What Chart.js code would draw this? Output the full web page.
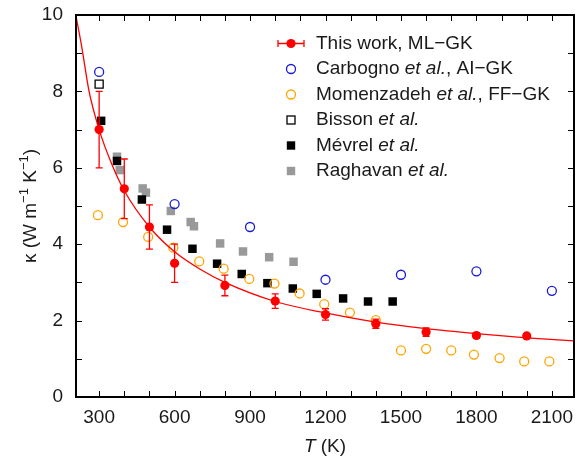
<!DOCTYPE html>
<html>
<head>
<meta charset="utf-8">
<script src="https://cdn.jsdelivr.net/npm/chart.js@4"></script>
<style>
  html, body { margin: 0; padding: 0; background: #fff; }
</style>
</head>
<body>
<canvas id="mainChart" width="581" height="459"></canvas>
<script>
// This work (ML-GK) with error bars
const thisT = [300, 400, 500, 600, 800, 1000, 1200, 1400, 1600, 1800, 2000];
const thisK = [7.0, 5.45, 4.45, 3.5, 2.92, 2.51, 2.16, 1.92, 1.70, 1.61, 1.60];
const thisErr = [1.0, 0.78, 0.58, 0.5, 0.27, 0.19, 0.15, 0.12, 0.11, 0.06, 0.06];

// fitted curve
const fitT = [210, 230, 260, 300, 350, 400, 500, 600, 700, 800, 1000, 1200, 1400, 1600, 1800, 2000, 2188];
const fitK = [9.9, 9.2, 8.0, 7.0, 6.1, 5.4, 4.45, 3.8, 3.35, 3.0, 2.5, 2.2, 1.96, 1.79, 1.66, 1.55, 1.47];

// Carbogno et al., AI-GK
const carbT = [300, 600, 900, 1200, 1500, 1800, 2100];
const carbK = [8.51, 5.05, 4.45, 3.07, 3.20, 3.29, 2.78];

// Momenzadeh et al., FF-GK
const momT = [295, 395, 495, 595, 698, 795, 897, 997, 1097, 1195, 1297, 1400, 1500, 1600, 1700, 1790, 1892, 1990, 2090];
const momK = [4.76, 4.58, 4.19, 3.91, 3.55, 3.36, 3.09, 2.97, 2.71, 2.43, 2.21, 2.01, 1.22, 1.26, 1.22, 1.11, 1.02, 0.93, 0.93];

// Bisson et al.
const bisT = [300];
const bisK = [8.19];

// Mévrel et al.
const mevT = [308, 371, 470, 570, 671, 769, 867, 969, 1070, 1165, 1270, 1369, 1467];
const mevK = [7.23, 6.18, 5.17, 4.38, 3.88, 3.49, 3.22, 2.98, 2.84, 2.70, 2.58, 2.50, 2.50];

// Raghavan et al.
const ragT = [371, 382, 473, 486, 585, 664, 677, 781, 872, 976, 1073];
const ragK = [6.29, 5.94, 5.46, 5.35, 4.87, 4.58, 4.47, 4.02, 3.81, 3.66, 3.54];

// tick labels
const xTickLabels = [300, 600, 900, 1200, 1500, 1800, 2100];
const yTickLabels = [0, 2, 4, 6, 8, 10];

const FONT = '"Liberation Sans", Arial, Helvetica, sans-serif';
const TXT = '#1a1a1a';
const RED = '#ff0000';
const BLUE = '#1a1ad6';
const ORANGE = '#ffa500';
const GRAY = '#999999';

function pts(xs, ys) {
    return xs.map((x, i) => ({ x: x, y: ys[i] }));
}

const legendRows = [
    { parts: [{ t: 'This work, ML\u2212GK' }], style: 'err' },
    { parts: [{ t: 'Carbogno ' }, { t: 'et al.', i: true }, { t: ', AI\u2212GK' }], style: 'circle', color: BLUE },
    { parts: [{ t: 'Momenzadeh ' }, { t: 'et al.', i: true }, { t: ', FF\u2212GK' }], style: 'circle', color: ORANGE },
    { parts: [{ t: 'Bisson ' }, { t: 'et al.', i: true }], style: 'openrect', color: '#000' },
    { parts: [{ t: 'M\u00e9vrel ' }, { t: 'et al.', i: true }], style: 'rect', color: '#000' },
    { parts: [{ t: 'Raghavan ' }, { t: 'et al.', i: true }], style: 'rect', color: GRAY }
];

// error bars for "this work"
const errorBars = {
    id: 'errorBars',
    afterDatasetsDraw(chart) {
        const ctx = chart.ctx;
        const xs = chart.scales.x, ys = chart.scales.y;
        ctx.save();
        ctx.strokeStyle = RED;
        ctx.lineWidth = 1.3;
        thisT.forEach((t, i) => {
            const px = xs.getPixelForValue(t);
            const top = ys.getPixelForValue(thisK[i] + thisErr[i]);
            const bot = ys.getPixelForValue(thisK[i] - thisErr[i]);
            ctx.beginPath();
            ctx.moveTo(px, top); ctx.lineTo(px, bot);
            ctx.moveTo(px - 3.5, top); ctx.lineTo(px + 3.5, top);
            ctx.moveTo(px - 3.5, bot); ctx.lineTo(px + 3.5, bot);
            ctx.stroke();
        });
        ctx.restore();
    }
};

// frame with inward ticks on all four sides
const frame = {
    id: 'frame',
    afterDraw(chart) {
        const ctx = chart.ctx;
        const a = chart.chartArea;
        const xs = chart.scales.x, ys = chart.scales.y;
        ctx.save();
        ctx.strokeStyle = '#000';
        ctx.lineWidth = 1;
        ctx.beginPath();
        xs.ticks.forEach(tk => {
            const px = Math.round(xs.getPixelForValue(tk.value)) + 0.5;
            ctx.moveTo(px, a.bottom); ctx.lineTo(px, a.bottom - 6);
            ctx.moveTo(px, a.top); ctx.lineTo(px, a.top + 6);
        });
        ys.ticks.forEach(tk => {
            const py = Math.round(ys.getPixelForValue(tk.value)) + 0.5;
            ctx.moveTo(a.left, py); ctx.lineTo(a.left + 6, py);
            ctx.moveTo(a.right, py); ctx.lineTo(a.right - 6, py);
        });
        ctx.stroke();
        ctx.lineWidth = 2;
        ctx.strokeRect(a.left, a.top, a.right - a.left, a.bottom - a.top);
        ctx.restore();
    }
};

// axis titles with italics and superscripts
const titles = {
    id: 'titles',
    afterDraw(chart) {
        const ctx = chart.ctx;
        const a = chart.chartArea;
        ctx.save();
        ctx.fillStyle = TXT;
        ctx.textBaseline = 'alphabetic';

        // y title
        const yParts = [
            { t: '\u03ba (W m', s: 19, dy: 0 },
            { t: '\u22121', s: 13, dy: -8 },
            { t: ' K', s: 19, dy: 0 },
            { t: '\u22121', s: 13, dy: -8 },
            { t: ')', s: 19, dy: 0 }
        ];
        let w = 0;
        yParts.forEach(p => { ctx.font = p.s + 'px ' + FONT; w += ctx.measureText(p.t).width; });
        ctx.translate(36, (a.top + a.bottom) / 2);
        ctx.rotate(-Math.PI / 2);
        let x = -w / 2;
        yParts.forEach(p => {
            ctx.font = p.s + 'px ' + FONT;
            ctx.fillText(p.t, x, p.dy);
            x += ctx.measureText(p.t).width;
        });
        ctx.setTransform(1, 0, 0, 1, 0, 0);

        // x title
        const xParts = [{ t: 'T', i: true }, { t: ' (K)' }];
        w = 0;
        xParts.forEach(p => { ctx.font = (p.i ? 'italic ' : '') + '19px ' + FONT; w += ctx.measureText(p.t).width; });
        x = (a.left + a.right) / 2 - w / 2;
        xParts.forEach(p => {
            ctx.font = (p.i ? 'italic ' : '') + '19px ' + FONT;
            ctx.fillText(p.t, x, 452);
            x += ctx.measureText(p.t).width;
        });
        ctx.restore();
    }
};

// legend, drawn by hand to get the error-bar key and italic "et al."
const legend = {
    id: 'customLegend',
    afterDraw(chart) {
        const ctx = chart.ctx;
        const mx = 291, tx = 316, y0 = 43.5, dy = 25.5;
        ctx.save();
        legendRows.forEach((row, r) => {
            const y = y0 + r * dy;
            ctx.lineWidth = 1.3;
            if (row.style === 'err') {
                ctx.strokeStyle = RED;
                ctx.beginPath();
                ctx.moveTo(278, y); ctx.lineTo(304, y);
                ctx.moveTo(278, y - 3.5); ctx.lineTo(278, y + 3.5);
                ctx.moveTo(304, y - 3.5); ctx.lineTo(304, y + 3.5);
                ctx.stroke();
                ctx.fillStyle = RED;
                ctx.beginPath(); ctx.arc(mx, y, 4.6, 0, Math.PI * 2); ctx.fill();
            } else if (row.style === 'circle') {
                ctx.strokeStyle = row.color;
                ctx.beginPath(); ctx.arc(mx, y, 4.5, 0, Math.PI * 2); ctx.stroke();
            } else if (row.style === 'openrect') {
                ctx.strokeStyle = row.color;
                ctx.strokeRect(mx - 4, y - 4, 8, 8);
            } else {
                ctx.fillStyle = row.color;
                ctx.fillRect(mx - 4.2, y - 4.2, 8.4, 8.4);
            }
            ctx.fillStyle = TXT;
            ctx.textBaseline = 'middle';
            let x = tx;
            row.parts.forEach(p => {
                ctx.font = (p.i ? 'italic ' : '') + '19px ' + FONT;
                ctx.fillText(p.t, x, y);
                x += ctx.measureText(p.t).width;
            });
        });
        ctx.restore();
    }
};

const ctx = document.getElementById('mainChart').getContext('2d');
const chart = new Chart(ctx, {
    type: 'scatter',
    data: {
        datasets: [
            {
                label: 'This work, ML-GK',
                data: pts(thisT, thisK),
                pointStyle: 'circle', pointRadius: 4.6,
                backgroundColor: RED, borderColor: RED, borderWidth: 0
            },
            {
                label: 'fit',
                type: 'line',
                data: pts(fitT, fitK),
                showLine: true, pointRadius: 0,
                borderColor: RED, borderWidth: 1.3,
                cubicInterpolationMode: 'monotone', fill: false
            },
            {
                label: 'Carbogno et al., AI-GK',
                data: pts(carbT, carbK),
                pointStyle: 'circle', pointRadius: 4.5,
                backgroundColor: 'rgba(0,0,0,0)', borderColor: BLUE, borderWidth: 1.3
            },
            {
                label: 'Momenzadeh et al., FF-GK',
                data: pts(momT, momK),
                pointStyle: 'circle', pointRadius: 4.5,
                backgroundColor: 'rgba(0,0,0,0)', borderColor: ORANGE, borderWidth: 1.3
            },
            {
                label: 'Bisson et al.',
                data: pts(bisT, bisK),
                pointStyle: 'rect', pointRadius: 5.7,
                backgroundColor: 'rgba(0,0,0,0)', borderColor: '#000', borderWidth: 1.3
            },
            {
                label: 'M\u00e9vrel et al.',
                data: pts(mevT, mevK),
                pointStyle: 'rect', pointRadius: 6,
                backgroundColor: '#000', borderColor: '#000', borderWidth: 0
            },
            {
                label: 'Raghavan et al.',
                data: pts(ragT, ragK),
                pointStyle: 'rect', pointRadius: 6,
                backgroundColor: GRAY, borderColor: GRAY, borderWidth: 0
            }
        ]
    },
    options: {
        responsive: false,
        animation: false,
        devicePixelRatio: 1,
        layout: { padding: { top: 15, right: 1, left: 0, bottom: 0 } },
        plugins: {
            legend: { display: false },
            tooltip: { enabled: false }
        },
        scales: {
            x: {
                type: 'linear',
                min: 208, max: 2188,
                grid: { display: false, drawTicks: false },
                border: { display: false },
                afterFit: (s) => { s.height = 62; s.paddingLeft = 0; s.paddingRight = 0; },
                ticks: {
                    stepSize: 100,
                    includeBounds: false,
                    autoSkip: false,
                    maxRotation: 0,
                    padding: 9,
                    color: TXT,
                    font: { family: FONT, size: 19 },
                    callback: (v) => xTickLabels.includes(v) ? String(v) : ''
                }
            },
            y: {
                min: 0, max: 10,
                grid: { display: false, drawTicks: false },
                border: { display: false },
                afterFit: (s) => { s.width = 76; s.paddingTop = 0; s.paddingBottom = 0; },
                ticks: {
                    stepSize: 1,
                    autoSkip: false,
                    padding: 13,
                    color: TXT,
                    font: { family: FONT, size: 19 },
                    callback: (v) => yTickLabels.includes(v) ? String(v) : ''
                }
            }
        }
    },
    plugins: [errorBars, frame, titles, legend]
});
</script>
</body>
</html>
